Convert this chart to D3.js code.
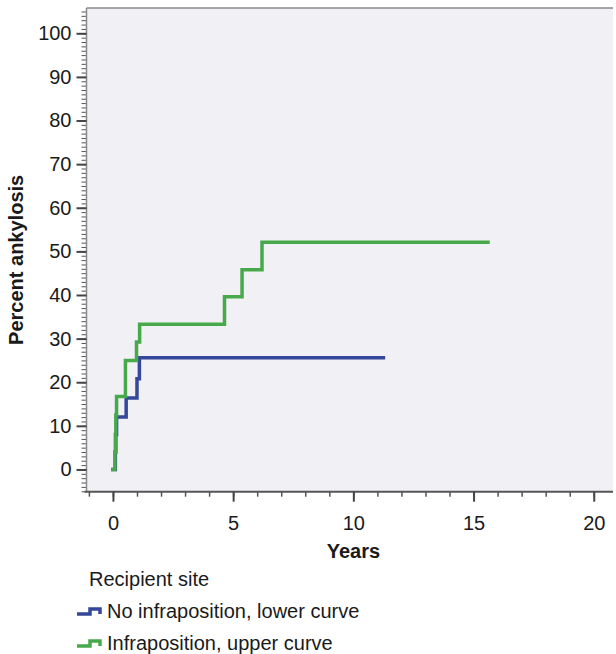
<!DOCTYPE html>
<html>
<head>
<meta charset="utf-8">
<script src="https://cdn.jsdelivr.net/npm/d3@7"></script>
<style>
  body { margin: 0; background: #fff; }
  svg text { font-family: "Liberation Sans", Arial, sans-serif; fill: #1a1a1a; }
</style>
</head>
<body>
<svg width="616" height="654"></svg>
<script>
// data
const lowerTimes = [0, 0.1, 0.12, 0.15, 0.55, 1.0, 1.1, 11.25];
const lowerValues = [0, 4, 8, 12, 16.4, 20.8, 25.6, 25.6];
const upperTimes = [0, 0.08, 0.1, 0.12, 0.15, 0.52, 0.98, 1.11, 4.64, 5.37, 6.2, 15.6];
const upperValues = [0, 4, 8, 12.5, 16.7, 25, 29.2, 33.3, 39.6, 45.8, 52.1, 52.1];
const xTicks = [0, 5, 10, 15, 20];
const yTicks = [0, 10, 20, 30, 40, 50, 60, 70, 80, 90, 100];
const legendTitle = "Recipient site";
const seriesNames = ["No infraposition, lower curve", "Infraposition, upper curve"];

const blue = "#34479b";
const green = "#47a94b";

const svg = d3.select("svg");
const plotL = 86.5, plotR = 613, plotT = 8, plotB = 491.7;

const x = d3.scaleLinear().domain([-1.1, 20.8]).range([plotL, plotR]);
const y = d3.scaleLinear().domain([-5.1, 105.8]).range([plotB, plotT]);

svg.append("rect")
    .attr("x", plotL).attr("y", plotT)
    .attr("width", plotR - plotL).attr("height", plotB - plotT)
    .attr("fill", "#f0f0f5");

svg.append("line")
    .attr("x1", plotL).attr("x2", plotR)
    .attr("y1", plotT).attr("y2", plotT)
    .attr("stroke", "#8a8a8a").attr("stroke-width", 1.5);

// minor ticks
svg.append("g")
    .attr("transform", `translate(${plotL},0)`)
    .call(d3.axisLeft(y).tickValues(d3.range(-5, 106)).tickSize(5).tickFormat(""))
    .call(g => g.select(".domain").remove())
    .selectAll("line").attr("stroke", "#555");

svg.append("g")
    .attr("transform", `translate(0,${plotB})`)
    .call(d3.axisBottom(x).tickValues(d3.range(-1, 21)).tickSize(5).tickFormat(""))
    .call(g => g.select(".domain").remove())
    .selectAll("line").attr("stroke", "#555").attr("stroke-width", 1.5);

// major ticks
const yAxis = svg.append("g")
    .attr("transform", `translate(${plotL},0)`)
    .call(d3.axisLeft(y).tickValues(yTicks).tickSize(10).tickPadding(5));
yAxis.select(".domain").attr("d", `M0,${plotT}V${plotB}`).attr("stroke", "#8a8a8a").attr("stroke-width", 1.5);
yAxis.selectAll(".tick line").attr("stroke", "#444").attr("stroke-width", 2);
yAxis.selectAll("text").style("font-size", "20px");

const xAxis = svg.append("g")
    .attr("transform", `translate(0,${plotB})`)
    .call(d3.axisBottom(x).tickValues(xTicks).tickSize(10).tickPadding(14));
xAxis.select(".domain").attr("d", `M${plotL - 2},0H${plotR}`).attr("stroke", "#555").attr("stroke-width", 2);
xAxis.selectAll(".tick line").attr("stroke", "#444").attr("stroke-width", 2);
xAxis.selectAll("text").style("font-size", "20px");

svg.append("text")
    .attr("x", x(10)).attr("y", 558)
    .attr("text-anchor", "middle")
    .style("font-size", "20px").style("font-weight", "bold")
    .text("Years");

svg.append("text")
    .attr("transform", `translate(23,${(plotT + plotB) / 2 + 10}) rotate(-90)`)
    .attr("text-anchor", "middle")
    .style("font-size", "20px").style("font-weight", "bold")
    .text("Percent ankylosis");

// curves
const line = d3.line()
    .x(d => x(d[0]))
    .y(d => y(d[1]))
    .curve(d3.curveStepAfter);

const series = [
    { pts: d3.zip(lowerTimes, lowerValues), color: blue },
    { pts: d3.zip(upperTimes, upperValues), color: green }
];

svg.selectAll("path.curve")
    .data(series)
    .join("path")
    .attr("class", "curve")
    .attr("d", d => line(d.pts))
    .attr("fill", "none")
    .attr("stroke", d => d.color)
    .attr("stroke-width", 3.5)
    .attr("stroke-linejoin", "miter")
    .attr("stroke-linecap", "square");

// legend
svg.append("text")
    .attr("x", 89).attr("y", 586)
    .style("font-size", "20px")
    .text(legendTitle);

const legend = svg.selectAll("g.leg")
    .data(seriesNames)
    .join("g")
    .attr("class", "leg")
    .attr("transform", (d, i) => `translate(77,${611 + i * 32})`);

legend.append("path")
    .attr("d", "M0,3H13V-2H23V3")
    .attr("fill", "none")
    .attr("stroke", (d, i) => i === 0 ? blue : green)
    .attr("stroke-width", 3.5);

legend.append("text")
    .attr("x", 30).attr("y", 7)
    .style("font-size", "20px")
    .text(d => d);
</script>
</body>
</html>
